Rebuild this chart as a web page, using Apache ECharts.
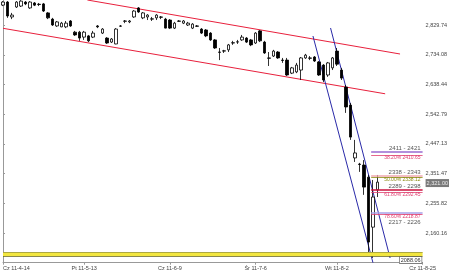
<!DOCTYPE html>
<html><head><meta charset="utf-8">
<script src="https://cdn.jsdelivr.net/npm/echarts@6/dist/echarts.min.js"></script>
<style>html,body{margin:0;padding:0;background:#fff}#c{width:450px;height:275px}</style>
</head><body><div id="c"></div>
<script>
// ---- data ----
const xTickLabels = ['Cz 11-4-14','Pt 11-5-13','Cz 11-6-9','Śr 11-7-6','Wt 11-8-2','Cz 11-8-25'];
const xTickIndex = [0,18,37,56,74,93];
const barCount = 94;
const yTickLabels = ['2,160.16','2,255.82','2,351.47','2,447.13','2,542.79','2,638.44','2,734.08','2,829.74'];
const yMin = 2064.505, yMax = 2910.55, yStep = 95.655;

const opens = [2894,2904,2856,2888,2891,2904,2885,2901,2897,2898,
  2869,2849,2827,2824,2824,2843,2807,2807,2791,2795,
  2791,2827,2804,2788,2775,2769,2826,2842,2840,2856,
  2885,2853,2856,2849,2853,2856,2849,2846,2820,2843,
  2836,2830,2820,2827,2817,2814,2804,2782,2743,2746,
  2750,2772,2775,2782,2788,2782,2772,2811,2775,2724,
  2730,2743,2717,2717,2675,2679,2685,2724,2724,2727,
  2711,2701,2669,2692,2746,2685,2630,2572,2402,2382,
  2379,2340,2179,2299];
const closes = [2904,2859,2862,2904,2907,2898,2904,2894,2896,2875,
  2853,2830,2840,2836,2836,2827,2798,2788,2807,2779,
  2804,2824,2817,2772,2785,2817,2827,2843,2843,2875,
  2872,2869,2862,2850,2862,2855,2820,2820,2836,2842,
  2843,2836,2833,2826,2804,2795,2782,2756,2742,2747,
  2766,2773,2776,2791,2775,2766,2804,2779,2740,2723,
  2746,2724,2716,2669,2692,2701,2724,2733,2723,2714,
  2669,2653,2708,2724,2704,2659,2566,2469,2418,2381,
  2308,2131,2276,2324];
const lows = [2891,2853,2849,2885,2888,2894,2882,2891,2891,2872,
  2849,2827,2824,2823,2820,2824,2795,2779,2782,2775,
  2788,2820,2801,2769,2772,2768,2824,2836,2836,2853,
  2869,2849,2846,2843,2846,2849,2819,2817,2817,2840,
  2833,2827,2817,2824,2801,2791,2779,2753,2717,2740,
  2743,2766,2769,2779,2772,2762,2769,2775,2737,2698,
  2727,2721,2708,2666,2672,2675,2653,2721,2717,2711,
  2666,2646,2663,2685,2698,2653,2547,2460,2389,2357,
  2283,2099,2080,2276];
const highs = [2907,2907,2869,2907,2910,2907,2907,2904,2901,2901,
  2872,2853,2843,2840,2843,2846,2811,2811,2811,2798,
  2811,2830,2820,2791,2788,2820,2830,2846,2846,2878,
  2888,2872,2865,2856,2865,2859,2853,2849,2840,2846,
  2846,2840,2836,2830,2820,2817,2807,2785,2756,2750,
  2769,2779,2782,2798,2791,2785,2807,2814,2779,2743,
  2750,2746,2724,2724,2695,2708,2727,2737,2730,2730,
  2714,2704,2711,2727,2756,2692,2637,2579,2460,2386,
  2395,2347,2331,2347];

// trend lines: [bar index, price]
const redUpper = [[18.7, 2910.6],[88.0, 2736.6]];
const redLower = [[0, 2819.4],[84.7, 2608.5]];
const blueLeft = [[68.7, 2794.6],[82.0, 2064.5]];
const blueRight = [[72.6, 2820.4],[85.8, 2079.6]];

// right-side levels
const levelStart = 81.6, levelEnd = 93;
const rangeText = ['2411 - 2421','2338 - 2343','2289 - 2298','2217 - 2226'];
const rangeTop = [2421, 2343, 2298, 2226];
const rangeColor = ['#9a6ad0','#f0a8b0','#c8103c','#a8a0e8'];
const fibText = ['38.20% 2410.65','50.00% 2338.12','61.80% 2292.45','78.60% 2218.87'];
const fibValue = [2412, 2339, 2293, 2221];
const fibColor = ['#e04070','#8a8a10','#e04070','#e04070'];
const bandTop = 2099, bandBottom = 2086, bandLabel = '2088.06';
const lastPrice = 2321, lastPriceLabel = '2,321.00';

// ---- chart ----
const chart = echarts.init(document.getElementById('c'), null, {renderer:'canvas'});
const FONT = 'Liberation Sans';
const categories = Array.from({length: barCount}, (_, i) => String(i));
const candleData = opens.map((o, i) => [o, closes[i], lows[i], highs[i]]);

function seg(data, color, width) {
  return {type:'line', xAxisIndex:1, yAxisIndex:0, data, symbol:'none', silent:true,
    lineStyle:{color, width}, z:3, animation:false};
}

const levelMarks = [];
rangeText.forEach((t, i) => {
  const below = i === 3;
  levelMarks.push([
    {coord:[levelStart, rangeTop[i]], lineStyle:{color:rangeColor[i], width:1.6, type:'solid'},
     label:{show:true, position: below ? 'insideEndBottom' : 'insideEndTop', formatter:t, color:'#555', fontSize:6, fontFamily:FONT,
       distance: below ? [2, 7] : [2, 1]}},
    {coord:[levelEnd, rangeTop[i]]}
  ]);
  levelMarks.push([
    {coord:[levelStart, fibValue[i]], lineStyle:{color:fibColor[i], width:0.8, type:'solid'},
     label:{show:true, position:'insideEndBottom', formatter:fibText[i], color:fibColor[i], fontSize:5, fontFamily:FONT, distance:[2, 0]}},
    {coord:[levelEnd, fibValue[i]]}
  ]);
});

chart.setOption({
  animation:false,
  backgroundColor:'#fff',
  grid:{left:2, right:25, top:0, bottom:12.3, containLabel:false},
  xAxis:[{
    type:'category', data:categories, boundaryGap:false,
    axisLine:{show:true, lineStyle:{color:'#999', width:1}},
    axisTick:{show:true, length:2, interval:(i)=>xTickIndex.includes(i), lineStyle:{color:'#999'}},
    axisLabel:{show:true, interval:(i)=>xTickIndex.includes(i), fontSize:5.5, fontFamily:FONT, color:'#444', margin:3,
      formatter:(v, i)=>{const k = xTickIndex.indexOf(+v); return k>=0 ? xTickLabels[k] : '';},
      alignMinLabel:'left'},
    splitLine:{show:false}
  },{
    type:'value', min:0, max:barCount-1, show:false
  }],
  yAxis:[{
    type:'value', position:'right', min:yMin, max:yMax, interval:yStep, scale:true,
    axisLine:{show:true, lineStyle:{color:'#999'}},
    axisTick:{show:true, length:2, lineStyle:{color:'#999'}},
    axisLabel:{fontSize:5.5, fontFamily:FONT, color:'#444', margin:3, showMinLabel:false, showMaxLabel:false,
      formatter:(v)=>{const k = Math.round((v - yMin)/yStep); return yTickLabels[k-1] || '';}},
    splitLine:{show:false}
  }],
  series:[
    {type:'candlestick', xAxisIndex:0, yAxisIndex:0, data:candleData, barWidth:3, z:4,
      itemStyle:{color:'#ffffff', color0:'#000000', borderColor:'#000000', borderColor0:'#000000', borderWidth:0.8}},
    seg(redUpper, '#e8203c', 1),
    seg(redLower, '#e8203c', 1),
    seg(blueLeft, '#2a2aa8', 1),
    seg(blueRight, '#2a2aa8', 1),
    {type:'line', xAxisIndex:1, yAxisIndex:0, data:[], silent:true, z:2,
      markLine:{symbol:['none','none'], silent:true, animation:false, data:levelMarks}},
    {type:'line', xAxisIndex:1, yAxisIndex:0, data:[], silent:true, z:2,
      markLine:{symbol:['none','none'], silent:true, animation:false, data:[
        [{coord:[0,(bandTop+bandBottom)/2], lineStyle:{color:'#f2e640', width:4, type:'solid'}, label:{show:false}},{coord:[levelEnd,(bandTop+bandBottom)/2]}],
        [{coord:[0,bandTop], lineStyle:{color:'#9a9840', width:0.8, type:'solid'}, label:{show:false}},{coord:[levelEnd,bandTop]}],
        [{coord:[0,bandBottom], lineStyle:{color:'#6a6820', width:0.8, type:'solid'},
          label:{show:true, position:'insideEndBottom', formatter:bandLabel, color:'#333', fontSize:5.5, fontFamily:FONT,
            backgroundColor:'#fff', borderColor:'#555', borderWidth:0.6, padding:[0,1], distance:[1,1]}},{coord:[levelEnd,bandBottom]}],
        [{coord:[levelEnd-0.2,lastPrice], lineStyle:{color:'rgba(0,0,0,0)', width:0, type:'solid'},
          label:{show:true, position:'end', formatter:lastPriceLabel, color:'#eeeeee',
          fontSize:5.5, fontFamily:FONT, backgroundColor:'#7a7a7a', padding:[1,1], distance:3}},{coord:[levelEnd,lastPrice]}]
      ]}}
  ]
});
</script></body></html>
